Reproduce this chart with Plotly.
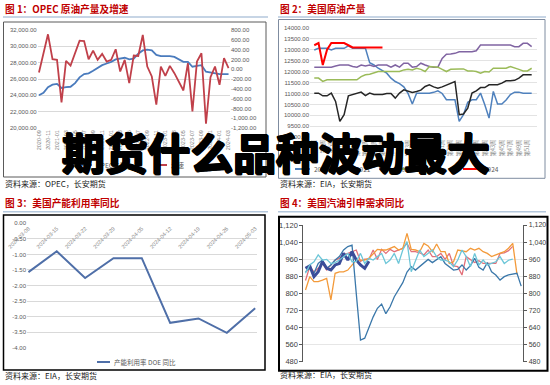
import plotly.graph_objects as go
import pandas as pd

# ---------------- data ----------------
# Panel 1: OPEC crude production (left) and change (right)
opec_months = [d.strftime("%Y-%m") for d in pd.date_range("2020-09-01", "2024-03-01", freq="MS")]
opec_prod = [24000, 24300, 25000, 25300, 25400, 24900, 25000, 25050, 25500, 26200,
             26600, 26700, 27000, 27400, 27700, 27900, 28100, 28400, 28500, 28600,
             28400, 28500, 29100, 29500, 29600, 29500, 28950, 28800, 28800, 28800,
             28700, 28400, 28100, 28100, 27500, 27600, 27700, 26900, 26800, 26700,
             26600, 26600, 26600]
opec_chg = [-68, 325, 712, 203, 190, -678, 170, 75, 325, 583,
            576, 203, 380, 190, 312, 156, 190, 407, -47, 190,
            -285, 278, 271, 698, 54, -149, -725, 54, -136, 68,
            -81, -251, -434, 122, -861, 156, 325, -1112, -163, 54,
            -319, 224, 20]
opec_left_ticks = [20000, 22000, 24000, 26000, 28000, 30000, 32000]
opec_right_ticks = [-1200, -1000, -800, -600, -400, -200, 0, 200, 400, 600, 800]

# Panel 2: US crude production by year (weekly)
weeks = ["第%d周" % w for w in range(1, 53)]
us_2020 = [12980, 13060, 13060, 13060, 12985, 13060, 13060, 13060, 13167, 13060,
           13060, 13060, 13060, 12400, 12300, 12150, 12050, 11924, 11700, 11545,
           11450, 11300, 11000, 10515, 11015, 11015, 11015, 11015, 11050, 11121,
           11000, 10712, 10712, 10712, 9727, 10030, 10600, 10712, 10712, 11015,
           10485, 9879, 11090, 10515, 10515, 10700, 10950, 11060, 11060, 11015,
           11015, 11015]
us_2021 = [11015, 11015, 10894, 10894, 11015, 10636, 9727, 10030, 10894, 10950,
           11000, 11060, 10900, 11015, 10950, 10950, 10950, 11000, 11000, 10787,
           11015, 11167, 11100, 11050, 11090, 11150, 11318, 11394, 11300, 11242,
           11300, 11394, 11470, 11545, 10030, 10060, 10333, 11015, 11121, 11270,
           11270, 11394, 11394, 11394, 11470, 11575, 11575, 11600, 11700, 11848,
           11848, 11848]
us_2022 = [12200, 12200, 12200, 12200, 12200, 12250, 12300, 12300, 12300, 12230,
           12200, 12300, 12250, 12300, 12230, 12300, 12300, 12300, 12200, 12300,
           12200, 12380, 12380, 12200, 12230, 12380, 12300, 12230, 12200, 12200,
           12600, 12790, 12800, 12830, 12900, 12900, 12900, 12900, 12950, 13210,
           13210, 13210, 13210, 13210, 13210, 13210, 13210, 13136, 13136, 13288,
           13288, 13136]
us_2023 = [11700, 11700, 11550, 11620, 11620, 11620, 11620, 11620, 11620, 11620,
           11620, 11770, 11850, 11880, 11930, 12000, 12000, 12000, 12000, 12000,
           12000, 12075, 12100, 12075, 12150, 12100, 12000, 12230, 12200, 12200,
           12100, 12000, 12100, 12120, 12120, 12120, 12030, 12030, 12000, 11924,
           12000, 11980, 12150, 12150, 12150, 12150, 12230, 12150, 12100, 12030,
           12030, 12150]
us_2024 = [13200, 13300, 12300, 13000, 13300, 13300, 13300, 13300, 13200, 13100,
           13100, 13100, 13100, 13100, 13100, 13100, 13100]
us_ticks = [9000, 9500, 10000, 10500, 11000, 11500, 12000, 12500, 13000, 13500, 14000]

# Panel 3: US refinery utilisation yoy
util_dates = ["2024-03-08", "2024-03-15", "2024-03-22", "2024-03-29", "2024-04-05",
              "2024-04-12", "2024-04-19", "2024-04-26", "2024-05-03"]
util_yoy = [-1.57, -0.90, -1.76, -1.12, -1.12, -3.20, -3.06, -3.52, -2.73]
util_ticks = [0, -0.5, -1.0, -1.5, -2.0, -2.5, -3.0, -3.5, -4.0]

# Panel 4: US gasoline implied demand (weekly)
gas_2020 = [901, 917, 894, 940, 956, 917, 933, 956, 972, 1003,
            1019, 1026, 800, 581, 590, 640, 690, 730, 750, 705,
            737, 784, 815, 850, 900, 925, 909, 925, 944, 959,
            944, 960, 972, 940, 925, 909, 912, 933, 909, 930,
            964, 922, 909, 944, 901, 886, 862, 878, 886, 890,
            894, 834]
gas_2021 = [894, 933, 948, 980, 956, 959, 940, 944, 956, 972,
            987, 948, 950, 987, 940, 964, 956, 972, 987, 940,
            956, 987, 940, 1003, 1042, 901, 956, 1003, 972, 987,
            1003, 972, 956, 956, 948, 925, 956, 1003, 972, 925,
            987, 933, 956, 933, 940, 948, 972, 940, 955, 960]
gas_2022 = [860, 925, 900, 917, 940, 910, 933, 956, 964, 980,
            987, 995, 1003, 950, 960, 960, 1003, 959, 1006, 987,
            1006, 995, 1003, 1011, 1034, 995, 995, 990, 980, 1003,
            972, 972, 987, 959, 987, 928, 925, 886, 972, 956,
            944, 953, 940, 940, 940, 940, 987, 990, 1000, 1020]
gas_2023 = [816, 878, 855, 855, 862, 870, 769, 894, 901, 901,
            909, 933, 956, 956, 956, 964, 987, 1006, 1003, 1003,
            1011, 1019, 1003, 1010, 1081, 1006, 1003, 995, 1034, 1022,
            995, 1031, 995, 995, 940, 948, 1003, 1000, 995, 1011,
            1003, 1011, 995, 987, 972, 980, 987, 995, 1011, 1034,
            890]
gas_2024 = [917, 928, 878, 901, 948, 917, 909, 933, 940, 987,
            956, 995, 956, 933, 917, 950]
gas_ticks = [480, 560, 640, 720, 800, 880, 960, 1040, 1120]

# ---------------- helpers ----------------
W, H = 550, 385
def X(px):
    return px / W
def Y(py):
    return 1 - py / H

TICKFONT = dict(family="Liberation Sans, Arial", size=6, color="#595959")
CJK = "Noto Sans CJK SC"
GRID = "#d9d9d9"

fig = go.Figure()

# Panel 1
fig.add_trace(go.Scatter(x=opec_months, y=opec_prod, mode="lines", xaxis="x", yaxis="y",
                         line=dict(color="#4a7bbd", width=1.8), name="OPEC产量"))
fig.add_trace(go.Scatter(x=opec_months, y=opec_chg, mode="lines", xaxis="x", yaxis="y2",
                         line=dict(color="#c0404a", width=1.8), name="增速"))

# Panel 2
wk = weeks
fig.add_trace(go.Scatter(x=wk, y=us_2020, mode="lines", xaxis="x2", yaxis="y3",
                         line=dict(color="#4f81bd", width=1.5), name="2020"))
fig.add_trace(go.Scatter(x=wk, y=us_2022, mode="lines", xaxis="x2", yaxis="y3",
                         line=dict(color="#8064a2", width=1.5), name="2022"))
fig.add_trace(go.Scatter(x=wk, y=us_2023, mode="lines", xaxis="x2", yaxis="y3",
                         line=dict(color="#9bbb59", width=1.5), name="2023"))
fig.add_trace(go.Scatter(x=wk, y=us_2021, mode="lines", xaxis="x2", yaxis="y3",
                         line=dict(color="#262626", width=1.5), name="2021"))
fig.add_trace(go.Scatter(x=wk[:len(us_2024)], y=us_2024, mode="lines", xaxis="x2", yaxis="y3",
                         line=dict(color="#ff0000", width=2), name="2024"))

# Panel 3
fig.add_trace(go.Scatter(x=util_dates, y=util_yoy, mode="lines", xaxis="x3", yaxis="y4",
                         line=dict(color="#4f6fa8", width=2), name="产能利用率 DOE 同比"))

# Panel 4
fig.add_trace(go.Scatter(x=wk[:len(gas_2021)], y=gas_2021, mode="lines", xaxis="x4", yaxis="y6",
                         line=dict(color="#6cc6d8", width=1.3), name="2021"))
fig.add_trace(go.Scatter(x=wk[:len(gas_2022)], y=gas_2022, mode="lines", xaxis="x4", yaxis="y5",
                         line=dict(color="#e2707a", width=1.3), name="2022"))
fig.add_trace(go.Scatter(x=wk[:len(gas_2023)], y=gas_2023, mode="lines", xaxis="x4", yaxis="y5",
                         line=dict(color="#f39a3a", width=1.3), name="2023"))
fig.add_trace(go.Scatter(x=wk, y=gas_2020, mode="lines", xaxis="x4", yaxis="y5",
                         line=dict(color="#3b78aa", width=1.3), name="2020"))
fig.add_trace(go.Scatter(x=wk[:len(gas_2024)], y=gas_2024, mode="lines", xaxis="x4", yaxis="y5",
                         line=dict(color="#3b4d99", width=3), name="2024"))

def fmt2(v):
    return f"{v:,.2f}"

NOAM = dict(automargin=False)
layout = dict(
    width=W, height=H, margin=dict(l=0, r=0, t=0, b=0, pad=0, autoexpand=False),
    paper_bgcolor="white", plot_bgcolor="white", showlegend=False,
    # panel 1
    xaxis=dict(type="category", domain=[X(37.6), X(229.9)], range=[-0.3, 42.3], anchor="y",
               tickvals=opec_months[::2], ticktext=opec_months[::2], tickangle=-90,
               tickfont=dict(family="Liberation Sans, Arial", size=5.5, color="#7f7f7f"),
               showgrid=False, showline=False, ticks="", **NOAM),
    yaxis=dict(domain=[Y(128), Y(30)], range=[20000, 32000], anchor="x",
               tickvals=opec_left_ticks, ticktext=[fmt2(v) for v in opec_left_ticks],
               tickfont=TICKFONT, gridcolor=GRID, gridwidth=1, zeroline=False, showline=False, **NOAM),
    yaxis2=dict(range=[-1200, 800], overlaying="y", side="right", anchor="x",
                tickvals=opec_right_ticks, ticktext=[fmt2(v) for v in opec_right_ticks],
                tickfont=TICKFONT, showgrid=False, zeroline=False, showline=False, **NOAM),
    # panel 2
    xaxis2=dict(type="category", domain=[X(310), X(536.8)], range=[-1, 52.2], anchor="y3",
                tickvals=weeks[::2], ticktext=weeks[::2], tickangle=-90,
                tickfont=dict(family=CJK, size=5.5, color="#7f7f7f"),
                showgrid=False, showline=False, ticks="", **NOAM),
    yaxis3=dict(domain=[Y(137.3), Y(27.7)], range=[9000, 14000], anchor="x2",
                tickvals=us_ticks, ticktext=[f"{v:.2f}" for v in us_ticks],
                tickfont=TICKFONT, gridcolor="#e3e3e3", zeroline=False, showline=False, **NOAM),
    # panel 3
    xaxis3=dict(type="category", domain=[X(27), X(256.6)], range=[-0.05, 8.05], anchor="free",
                position=Y(223.3), side="bottom", tickangle=-45,
                tickfont=dict(family="Liberation Sans, Arial", size=5.5, color="#7f7f7f"),
                showgrid=False, showline=False, ticks="", **NOAM),
    yaxis4=dict(domain=[Y(347.7), Y(223.3)], range=[-4.0, 0.0], anchor="x3",
                tickvals=util_ticks, ticktext=[f"{v:.2f}" for v in util_ticks],
                tickfont=TICKFONT, gridcolor=GRID, zeroline=False, showline=False, **NOAM),
    # panel 4
    xaxis4=dict(type="category", domain=[X(303.4), X(523.3)], range=[-0.5, 51.5], anchor="y5",
                showticklabels=False, showgrid=False, showline=False, ticks="", **NOAM),
    yaxis5=dict(domain=[Y(361.7), Y(225)], range=[480, 1120], anchor="x4",
                tickvals=gas_ticks, ticktext=[f"{v:,}" for v in gas_ticks],
                tickfont=dict(family="Liberation Sans, Arial", size=7.5, color="#404040"),
                gridcolor="#e6e6e6", zeroline=False, showline=True, linecolor="#595959",
                linewidth=1, ticks="outside", ticklen=3, tickcolor="#595959", **NOAM),
    yaxis6=dict(range=[480, 1120], overlaying="y5", side="right", anchor="x4",
                tickvals=gas_ticks, ticktext=[f"{v:,}" for v in gas_ticks],
                tickfont=dict(family="Liberation Sans, Arial", size=7, color="#404040"),
                showgrid=False, zeroline=False, showline=True, linecolor="#595959",
                linewidth=1, ticks="outside", ticklen=3, tickcolor="#595959", **NOAM),
)
fig.update_layout(**layout)

shapes = []
# title underlines
for (x0, x1, y) in [(3, 268, 17), (278, 546, 17), (3, 268, 211.7), (278, 546, 211.7)]:
    shapes.append(dict(type="line", xref="paper", yref="paper", x0=X(x0), x1=X(x1), y0=Y(y), y1=Y(y),
                       line=dict(color="#b4c7dc", width=1.5)))
# chart boxes
shapes.append(dict(type="rect", xref="paper", yref="paper", x0=X(3.5), x1=X(266), y0=Y(177), y1=Y(22),
                   line=dict(color="#5a5a5a", width=1)))
shapes.append(dict(type="rect", xref="paper", yref="paper", x0=X(278.5), x1=X(545), y0=Y(178.3), y1=Y(19.5),
                   line=dict(color="#7f8ca0", width=1)))
shapes.append(dict(type="rect", xref="paper", yref="paper", x0=X(3.5), x1=X(265), y0=Y(370), y1=Y(215),
                   line=dict(color="#000000", width=1.5)))
shapes.append(dict(type="rect", xref="paper", yref="paper", x0=X(279), x1=X(547.5), y0=Y(370.7), y1=Y(216.7),
                   line=dict(color="#000000", width=2)))
# legend keys
legend_items = [
    (80, 92, 165, "#4a7bbd", "OPEC产量"),
    (155, 167, 165, "#c0404a", "增速"),
    (295, 310, 169, "#4f81bd", "2020"),
    (337, 352, 169, "#262626", "2021"),
    (379, 394, 169, "#8064a2", "2022"),
    (402, 414, 169, "#9bbb59", "2023"),
    (463, 480, 169, "#ff0000", "2024"),
    (97, 110, 362, "#4f6fa8", "产能利用率 DOE 同比"),
]
annotations = []
for x0, x1, y, c, t in legend_items:
    shapes.append(dict(type="line", xref="paper", yref="paper", x0=X(x0), x1=X(x1), y0=Y(y), y1=Y(y),
                       line=dict(color=c, width=2)))
    annotations.append(dict(xref="paper", yref="paper", x=X(x1 + 2), y=Y(y), text=t, showarrow=False,
                            xanchor="left", yanchor="middle",
                            font=dict(family=CJK, size=6.5, color="#595959")))

# titles
titles = [(3, 9, "图 1：OPEC 原油产量及增速"), (278, 9, "图 2：美国原油产量"),
          (3, 203, "图 3：美国产能利用率同比"), (278, 203, "图 4：美国汽油引申需求同比")]
for x, y, t in titles:
    annotations.append(dict(xref="paper", yref="paper", x=X(x), y=Y(y), text="<b>%s</b>" % t,
                            showarrow=False, xanchor="left", yanchor="middle",
                            font=dict(family=CJK, size=9.7, color="#c00000")))
sources = [(3, 183, "资料来源：OPEC，长安期货"), (278, 183, "资料来源：EIA，长安期货"),
           (3, 375.5, "资料来源：EIA，长安期货"), (278, 374.5, "资料来源：EIA，长安期货")]
for x, y, t in sources:
    annotations.append(dict(xref="paper", yref="paper", x=X(x), y=Y(y), text=t,
                            showarrow=False, xanchor="left", yanchor="middle",
                            font=dict(family=CJK, size=8, color="#222222")))
# overlay headline
annotations.append(dict(xref="paper", yref="paper", x=X(275.5), y=Y(151), text="<b>期货什么品种波动最大</b>",
                        showarrow=False, xanchor="center", yanchor="middle",
                        font=dict(family=CJK, size=42.8, color="#000000", weight=900,
                                  shadow="1px 0 0 #000, -1px 0 0 #000, 0 1px 0 #000, 0 -1px 0 #000, "
                                         "1px 1px 0 #000, -1px -1px 0 #000")))

fig.update_layout(shapes=shapes, annotations=annotations)
fig.write_html("out.html", config={"displayModeBar": False},
               post_script="document.body.style.margin='0';")
